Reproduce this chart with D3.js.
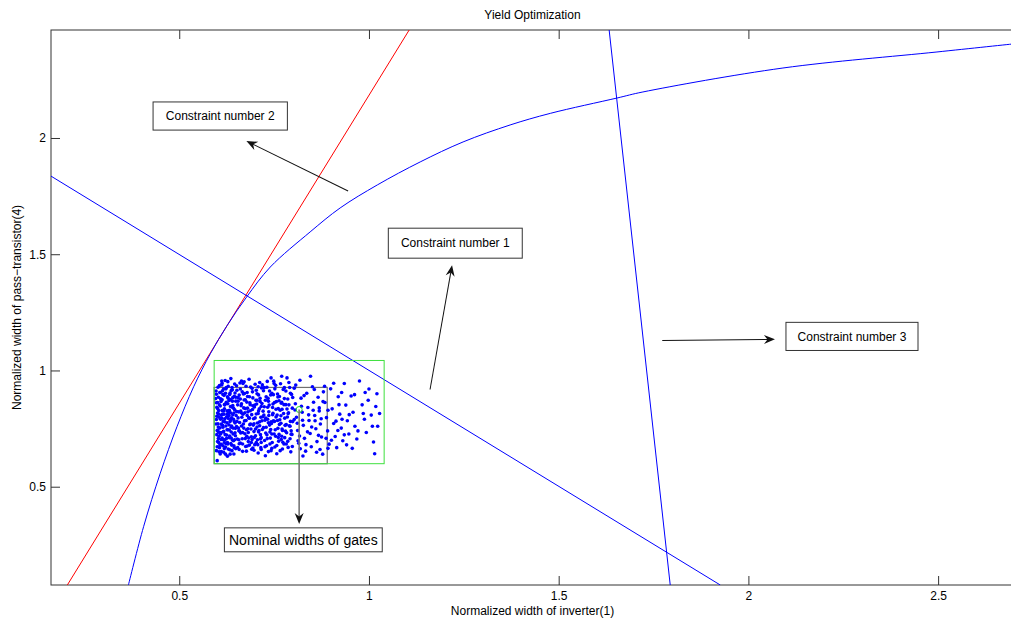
<!DOCTYPE html>
<html>
<head>
<meta charset="utf-8">
<script src="https://cdn.jsdelivr.net/npm/d3@7"></script>
<style>
  body { margin: 0; background: #fff; }
  text { font-family: "Liberation Sans", Arial, sans-serif; }
</style>
</head>
<body>
<div id="chart_yield"></div>
<script>

const chartTitle = 'Yield Optimization';
const xAxisTitle = 'Normalized width of inverter(1)';
const yAxisTitle = 'Normalized width of pass\u2212transistor(4)';

// tick values / labels
const x_ticks = [0.5, 1, 1.5, 2, 2.5];
const x_tick_labels = ['0.5', '1', '1.5', '2', '2.5'];
const y_ticks = [0.5, 1, 1.5, 2];
const y_tick_labels = ['0.5', '1', '1.5', '2'];

// constraint 1 (curved boundary)
const constraint_1 = [
  [0.366, 0.077], [0.406, 0.328], [0.450, 0.558], [0.494, 0.758], [0.538, 0.930],
  [0.582, 1.072], [0.626, 1.193], [0.678, 1.317], [0.740, 1.445], [0.845, 1.596],
  [0.924, 1.699], [1.022, 1.798], [1.135, 1.897], [1.248, 1.983], [1.372, 2.056],
  [1.478, 2.106], [1.654, 2.172], [1.722, 2.198], [2.091, 2.301], [2.497, 2.370],
  [2.700, 2.405]
];
// constraint 2 (red line)
const constraint_2 = [[0.205, 0.077], [1.106, 2.4645]];
// the two straight blue lines
const constraint_3 = [[1.633, 2.4645], [1.794, 0.077]];
const constraint_4 = [[0.162, 1.836], [1.926, 0.077]];

// tolerance box (green) and nominal box (gray)
const tolerance_box = { x0: 0.592, x1: 1.040, y0: 0.599, y1: 1.043 };
const nominal_box = { x0: 0.592, x1: 0.890, y0: 0.599, y1: 0.927 };
const nominal_point = [0.816, 0.832];

// Monte Carlo samples
const samples = [
  [0.597,0.912],[0.598,0.861],[0.599,0.803],[0.600,0.742],[0.601,0.694],[0.598,0.655],[0.603,0.885],[0.604,0.828],[0.602,0.771],[0.605,0.717],
  [0.606,0.668],[0.607,0.905],[0.608,0.847],[0.609,0.790],[0.610,0.733],[0.611,0.682],[0.612,0.938],[0.613,0.874],[0.614,0.812],[0.615,0.756],
  [0.616,0.702],[0.617,0.648],[0.618,0.893],[0.619,0.835],[0.620,0.779],[0.621,0.724],[0.622,0.671],[0.623,0.921],[0.624,0.858],[0.625,0.801],
  [0.626,0.745],[0.627,0.690],[0.628,0.952],[0.629,0.881],[0.630,0.822],[0.631,0.766],[0.632,0.711],[0.633,0.659],[0.634,0.903],[0.635,0.845],
  [0.636,0.788],[0.637,0.735],[0.638,0.679],[0.639,0.927],[0.640,0.868],[0.641,0.809],[0.642,0.752],[0.643,0.698],[0.644,0.641],[0.645,0.889],
  [0.646,0.831],[0.647,0.774],[0.648,0.719],[0.649,0.664],[0.600,0.612],
  [0.596,0.879],[0.597,0.770],[0.599,0.724],[0.601,0.836],[0.602,0.928],[0.604,0.690],[0.605,0.799],[0.607,0.753],[0.608,0.641],[0.610,0.867],
  [0.611,0.808],[0.613,0.709],[0.614,0.913],[0.616,0.781],[0.617,0.738],[0.619,0.664],[0.620,0.852],[0.622,0.902],[0.623,0.761],[0.625,0.708],
  [0.626,0.826],[0.628,0.684],[0.629,0.794],[0.631,0.871],[0.632,0.744],[0.634,0.640],[0.635,0.818],[0.637,0.914],[0.638,0.761],[0.640,0.701],
  [0.641,0.849],[0.643,0.790],[0.644,0.676],[0.646,0.942],[0.647,0.732],[0.649,0.868],[0.650,0.806],[0.612,0.955],[0.636,0.965],[0.627,0.631],
  [0.652,0.915],[0.654,0.852],[0.655,0.796],[0.657,0.741],[0.658,0.685],[0.660,0.946],[0.661,0.877],[0.663,0.818],[0.664,0.761],[0.666,0.706],
  [0.667,0.652],[0.669,0.899],[0.670,0.839],[0.672,0.783],[0.673,0.728],[0.675,0.673],[0.676,0.932],[0.678,0.864],[0.679,0.806],[0.681,0.749],
  [0.682,0.694],[0.684,0.962],[0.685,0.887],[0.687,0.827],[0.688,0.770],[0.690,0.715],[0.691,0.661],[0.693,0.908],[0.694,0.848],[0.696,0.792],
  [0.697,0.737],[0.699,0.681],[0.700,0.941],[0.702,0.872],[0.703,0.813],[0.705,0.757],[0.706,0.702],[0.708,0.645],[0.709,0.895],[0.711,0.835],
  [0.712,0.779],[0.714,0.724],[0.715,0.668],[0.717,0.925],[0.718,0.858],[0.720,0.801],[0.719,0.746],[0.716,0.690],
  [0.651,0.759],[0.653,0.705],[0.655,0.883],[0.656,0.822],[0.658,0.660],[0.659,0.776],[0.661,0.920],[0.662,0.731],[0.664,0.857],[0.665,0.799],
  [0.667,0.684],[0.668,0.944],[0.670,0.752],[0.671,0.873],[0.673,0.818],[0.674,0.707],[0.676,0.785],[0.677,0.653],[0.679,0.905],[0.680,0.838],
  [0.682,0.733],[0.683,0.796],[0.685,0.679],[0.686,0.861],[0.688,0.929],[0.689,0.748],[0.691,0.810],[0.692,0.703],[0.694,0.882],[0.695,0.765],
  [0.697,0.657],[0.698,0.843],[0.700,0.796],[0.701,0.719],[0.703,0.915],[0.704,0.856],[0.706,0.774],[0.707,0.681],[0.709,0.826],[0.710,0.742],
  [0.712,0.948],[0.713,0.880],[0.715,0.799],[0.716,0.711],
  [0.722,0.913],[0.724,0.844],[0.726,0.786],[0.728,0.731],[0.730,0.676],[0.732,0.953],[0.734,0.880],[0.736,0.822],[0.738,0.765],[0.740,0.709],
  [0.742,0.655],[0.744,0.902],[0.746,0.841],[0.748,0.783],[0.750,0.727],[0.752,0.671],[0.754,0.936],[0.756,0.866],[0.758,0.808],[0.760,0.751],
  [0.762,0.696],[0.764,0.888],[0.766,0.829],[0.768,0.773],[0.770,0.717],[0.772,0.662],[0.774,0.918],[0.776,0.853],[0.778,0.795],[0.780,0.739],
  [0.782,0.684],[0.784,0.968],[0.786,0.877],[0.788,0.818],[0.790,0.762],[0.792,0.706],[0.794,0.650],[0.796,0.897],[0.798,0.838],[0.799,0.780],
  [0.797,0.725],
  [0.723,0.808],[0.725,0.699],[0.727,0.872],[0.729,0.756],[0.731,0.928],[0.733,0.790],[0.735,0.651],[0.737,0.851],[0.739,0.735],[0.741,0.895],
  [0.743,0.772],[0.745,0.690],[0.747,0.816],[0.749,0.954],[0.751,0.862],[0.753,0.745],[0.755,0.800],[0.757,0.677],[0.759,0.899],[0.761,0.836],
  [0.763,0.725],[0.765,0.788],[0.767,0.943],[0.769,0.859],[0.771,0.748],[0.773,0.691],[0.775,0.815],[0.777,0.879],[0.779,0.764],[0.781,0.912],
  [0.783,0.732],[0.785,0.800],[0.787,0.669],[0.789,0.852],[0.791,0.927],[0.793,0.781],[0.795,0.741],[0.770,0.975],[0.742,0.968],
  [0.803,0.924],[0.806,0.857],[0.809,0.799],[0.812,0.742],[0.815,0.687],[0.818,0.958],[0.821,0.881],[0.824,0.820],[0.827,0.764],[0.830,0.708],
  [0.833,0.653],[0.836,0.902],[0.839,0.841],[0.842,0.785],[0.845,0.729],[0.848,0.672],[0.851,0.930],[0.854,0.863],[0.857,0.806],[0.860,0.749],
  [0.863,0.694],[0.866,0.885],[0.869,0.826],[0.872,0.770],[0.875,0.714],[0.878,0.640],[0.880,0.908],[0.871,0.660],[0.826,0.632],[0.846,0.975],
  [0.884,0.862],[0.888,0.797],[0.891,0.740],[0.895,0.683],[0.899,0.921],[0.903,0.835],[0.907,0.772],[0.911,0.716],[0.915,0.668],[0.919,0.887],
  [0.923,0.812],[0.927,0.752],[0.931,0.698],[0.935,0.944],[0.939,0.851],[0.943,0.784],[0.947,0.727],[0.892,0.665],[0.928,0.905],
  [0.953,0.890],[0.958,0.820],[0.963,0.760],[0.968,0.705],[0.975,0.955],[0.982,0.852],[0.988,0.790],[0.993,0.733],[1.000,0.920],[1.006,0.808],
  [1.012,0.692],[1.018,0.845],[1.023,0.760],[1.015,0.642],[0.990,0.905],[1.028,0.815],
  [0.603,0.757],[0.618,0.812],[0.611,0.651],[0.627,0.887],[0.599,0.842],[0.642,0.727],[0.634,0.781],[0.606,0.935],[0.655,0.868],[0.621,0.703],
  [0.647,0.903],[0.614,0.764],[0.668,0.812],[0.629,0.662],[0.598,0.789],[0.677,0.745],[0.639,0.843],[0.609,0.878],[0.661,0.688],[0.624,0.926],
  [0.687,0.853],[0.645,0.668],[0.603,0.707],[0.652,0.781],[0.633,0.897],[0.616,0.735],[0.672,0.901],[0.697,0.771],[0.637,0.709],[0.601,0.862],
  [0.683,0.709],[0.619,0.853],[0.659,0.739],[0.644,0.817],[0.607,0.679],[0.693,0.832],[0.628,0.745],[0.664,0.955],[0.612,0.795],[0.679,0.675],
  [0.648,0.751],[0.621,0.957],[0.674,0.836],[0.636,0.686],[0.604,0.812],[0.692,0.923],[0.657,0.702],[0.626,0.775],[0.685,0.795],[0.641,0.883],
  [0.609,0.727],[0.669,0.770],[0.632,0.829],[0.698,0.712],[0.615,0.897],[0.651,0.934],[0.680,0.888],[0.623,0.686],[0.663,0.848],[0.600,0.672],
  [0.712,0.762],[0.735,0.868],[0.761,0.712],[0.708,0.815],[0.748,0.896],[0.726,0.672],[0.784,0.834],[0.741,0.746],[0.719,0.938],[0.768,0.805],
  [0.703,0.690],[0.792,0.760],[0.755,0.833],[0.731,0.723],[0.777,0.926],[0.716,0.845],[0.803,0.789],[0.744,0.665],[0.763,0.870],[0.728,0.795],
  [0.817,0.718],[0.705,0.872],[0.786,0.695],[0.751,0.781],[0.738,0.912],[0.822,0.846],[0.772,0.742],[0.714,0.705],[0.799,0.884],[0.757,0.642],
  [0.733,0.842],[0.811,0.773],[0.776,0.684],[0.746,0.810],[0.829,0.892],[0.722,0.754],[0.789,0.948],[0.764,0.768],[0.841,0.809],[0.708,0.930],
  [0.795,0.726],[0.752,0.921],[0.834,0.681],[0.781,0.853],[0.727,0.633],[0.849,0.757],[0.807,0.937],[0.769,0.703],[0.742,0.779],[0.819,0.663],
  [0.858,0.784],[0.892,0.829],[0.867,0.721],[0.913,0.782],[0.879,0.866],[0.935,0.723],[0.862,0.648],[0.948,0.810],[0.901,0.700],[0.883,0.932],
  [0.971,0.740],[0.921,0.853],[0.856,0.918],[0.998,0.872],[0.941,0.680],[0.874,0.792],[0.962,0.896],[0.907,0.945],[1.009,0.760],[0.887,0.708],
  [0.956,0.665],[0.929,0.790],[0.869,0.839],[0.985,0.815],[0.918,0.742],[1.021,0.900],
  [0.602,0.744],[0.613,0.828],[0.625,0.722],[0.608,0.905],[0.631,0.806],[0.619,0.690],[0.640,0.917],[0.605,0.650],[0.651,0.823],[0.624,0.863],
  [0.611,0.769],[0.637,0.756],[0.598,0.898],[0.646,0.702],[0.629,0.932],[0.615,0.676],[0.658,0.894],[0.601,0.817],[0.643,0.838],[0.620,0.792],
  [0.667,0.733],[0.633,0.718],[0.606,0.852],[0.654,0.668],[0.627,0.813],[0.674,0.874],[0.617,0.920],[0.639,0.655],[0.686,0.767],[0.610,0.703],
  [0.662,0.825],[0.645,0.780],[0.699,0.851],[0.622,0.640],[0.678,0.717],[0.635,0.875],[0.690,0.690],[0.613,0.945],[0.671,0.951],[0.656,0.752],
  [0.604,0.734],[0.681,0.822],[0.628,0.857],[0.701,0.748],[0.649,0.885],[0.694,0.666],[0.617,0.827],[0.666,0.908],[0.705,0.900],[0.638,0.796],
  [0.718,0.784],[0.732,0.707],[0.747,0.856],[0.713,0.867],[0.759,0.785],[0.724,0.926],[0.771,0.833],[0.739,0.684],[0.782,0.767],[0.709,0.736],
  [0.754,0.717],[0.793,0.902],[0.736,0.806],[0.766,0.655],[0.721,0.825],[0.805,0.830],[0.750,0.944],[0.778,0.711],[0.729,0.887],[0.813,0.698],
  [0.760,0.886],[0.744,0.727],[0.787,0.815],[0.716,0.660],[0.798,0.673],[0.735,0.775],[0.825,0.786],[0.770,0.863],[0.853,0.829],[0.838,0.736]
];

// text annotations: box corners in data units, arrow tail -> head
const notes = [
  { text: 'Constraint number 2', x0: 0.431, x1: 0.785, y0: 2.034, y1: 2.155, size: 12 },
  { text: 'Constraint number 1', x0: 1.051, x1: 1.404, y0: 1.483, y1: 1.612, size: 12 },
  { text: 'Constraint number 3', x0: 2.099, x1: 2.447, y0: 1.086, y1: 1.207, size: 12 },
  { text: 'Nominal widths of gates', x0: 0.619, x1: 1.035, y0: 0.220, y1: 0.323, size: 14 }
];
const arrows = [
  { from: [0.945, 1.772], to: [0.677, 1.987], color: '#111' },
  { from: [1.161, 0.918], to: [1.219, 1.453], color: '#111' },
  { from: [1.773, 1.129], to: [2.070, 1.134], color: '#111' },
  { from: [0.816, 0.832], to: [0.816, 0.340], color: '#777' }
];

const figure_width = 1011;
const figure_height = 620;
const plot_margin = { top: 30, left: 51 },
    plot_width = 963,
    plot_height = 555;

const svg_root = d3.select( 'div#chart_yield' )
  .append( 'svg' )
    .attr( 'width', figure_width )
    .attr( 'height', figure_height );

const svg = svg_root.append( 'g' )
    .attr( 'transform', 'translate( ' + plot_margin.left + ', ' + plot_margin.top + ' )' );

const x = d3.scaleLinear()
  .domain( [0.162, 2.7] )
  .range( [0, plot_width] );
const y = d3.scaleLinear()
  .domain( [0.0772, 2.4645] )
  .range( [plot_height, 0] );

svg.append( 'clipPath' ).attr( 'id', 'plot_clip' )
  .append( 'rect' ).attr( 'width', plot_width ).attr( 'height', plot_height );

// Axes (ticks point inward, MATLAB style)
const axis_color = '#333';
function style_axis( g ) {
  g.select( '.domain' ).remove();
  g.selectAll( '.tick line' ).attr( 'stroke', axis_color );
  g.selectAll( '.tick text' ).attr( 'fill', '#000' )
    .style( 'font-size', '12px' ).style( 'font-family', '"Liberation Sans", Arial, sans-serif' );
}
svg.append( 'g' )
  .attr( 'transform', 'translate(0,' + plot_height + ')' )
  .call( d3.axisBottom( x ).tickValues( x_ticks ).tickFormat( ( d, i ) => x_tick_labels[i] )
    .tickSizeInner( -9 ).tickSizeOuter( 0 ).tickPadding( 6 ) )
  .call( style_axis );
svg.append( 'g' )
  .call( d3.axisTop( x ).tickValues( x_ticks ).tickFormat( '' ).tickSizeInner( -9 ).tickSizeOuter( 0 ) )
  .call( style_axis );
svg.append( 'g' )
  .call( d3.axisLeft( y ).tickValues( y_ticks ).tickFormat( ( d, i ) => y_tick_labels[i] )
    .tickSizeInner( -9 ).tickSizeOuter( 0 ).tickPadding( 5 ) )
  .call( style_axis );

// Frame
svg.append( 'rect' )
  .attr( 'width', plot_width ).attr( 'height', plot_height )
  .attr( 'fill', 'none' ).attr( 'stroke', axis_color ).attr( 'stroke-width', 1 );

const plot = svg.append( 'g' ).attr( 'clip-path', 'url(#plot_clip)' );
const line = d3.line().x( d => x( d[0] ) ).y( d => y( d[1] ) );
const smooth_line = d3.line().curve( d3.curveCatmullRom.alpha( 0.5 ) ).x( d => x( d[0] ) ).y( d => y( d[1] ) );

// Constraint lines
plot.append( 'path' ).datum( constraint_2 ).attr( 'd', line )
  .attr( 'fill', 'none' ).attr( 'stroke', '#ff0000' ).attr( 'stroke-width', 1 );
plot.append( 'path' ).datum( constraint_1 ).attr( 'd', smooth_line )
  .attr( 'fill', 'none' ).attr( 'stroke', '#0000ff' ).attr( 'stroke-width', 1 );
[constraint_3, constraint_4].forEach( function( c ) {
  plot.append( 'path' ).datum( c ).attr( 'd', line )
    .attr( 'fill', 'none' ).attr( 'stroke', '#0000ff' ).attr( 'stroke-width', 1 );
});

// Nominal box (gray) and tolerance box (green)
plot.append( 'rect' )
  .attr( 'x', x( nominal_box.x0 ) ).attr( 'y', y( nominal_box.y1 ) )
  .attr( 'width', x( nominal_box.x1 ) - x( nominal_box.x0 ) )
  .attr( 'height', y( nominal_box.y0 ) - y( nominal_box.y1 ) )
  .attr( 'fill', 'none' ).attr( 'stroke', '#707070' ).attr( 'stroke-width', 1.2 );

// Samples
plot.append( 'g' )
  .selectAll( 'circle' )
  .data( samples )
  .enter()
  .append( 'circle' )
    .attr( 'cx', d => x( d[0] ) )
    .attr( 'cy', d => y( d[1] ) )
    .attr( 'r', 1.8 )
    .style( 'fill', '#0000ff' );

plot.append( 'rect' )
  .attr( 'x', x( tolerance_box.x0 ) ).attr( 'y', y( tolerance_box.y1 ) )
  .attr( 'width', x( tolerance_box.x1 ) - x( tolerance_box.x0 ) )
  .attr( 'height', y( tolerance_box.y0 ) - y( tolerance_box.y1 ) )
  .attr( 'fill', 'none' ).attr( 'stroke', '#3ee03e' ).attr( 'stroke-width', 1 );

plot.append( 'circle' )
  .attr( 'cx', x( nominal_point[0] ) ).attr( 'cy', y( nominal_point[1] ) )
  .attr( 'r', 3 ).attr( 'fill', 'none' ).attr( 'stroke', '#22dd22' ).attr( 'stroke-width', 1 );

// Arrows
arrows.forEach( function( a ) {
  const x1 = x( a.from[0] ), y1 = y( a.from[1] ), x2 = x( a.to[0] ), y2 = y( a.to[1] );
  const ang = Math.atan2( y2 - y1, x2 - x1 ) * 180 / Math.PI;
  const len = Math.hypot( x2 - x1, y2 - y1 );
  const g = svg.append( 'g' )
    .attr( 'transform', 'translate(' + x1 + ',' + y1 + ') rotate(' + ang + ')' );
  g.append( 'line' ).attr( 'x1', 0 ).attr( 'y1', 0 ).attr( 'x2', len - 6 ).attr( 'y2', 0 )
    .attr( 'stroke', a.color ).attr( 'stroke-width', a.color === '#111' ? 1 : 1.6 );
  g.append( 'path' )
    .attr( 'd', 'M' + len + ',0 L' + ( len - 11 ) + ',-4.5 L' + ( len - 7.5 ) + ',0 L' + ( len - 11 ) + ',4.5 Z' )
    .attr( 'fill', '#111' );
});

// Text boxes
notes.forEach( function( n ) {
  svg.append( 'rect' )
    .attr( 'x', x( n.x0 ) ).attr( 'y', y( n.y1 ) )
    .attr( 'width', x( n.x1 ) - x( n.x0 ) ).attr( 'height', y( n.y0 ) - y( n.y1 ) )
    .attr( 'fill', '#fff' ).attr( 'stroke', '#333' ).attr( 'stroke-width', 1 );
  svg.append( 'text' )
    .attr( 'x', ( x( n.x0 ) + x( n.x1 ) ) / 2 )
    .attr( 'y', ( y( n.y0 ) + y( n.y1 ) ) / 2 )
    .attr( 'dy', '0.35em' )
    .attr( 'text-anchor', 'middle' )
    .style( 'font-size', n.size + 'px' )
    .text( n.text );
});

// Titles
svg_root.append( 'text' )
  .attr( 'x', plot_margin.left + x( 1.431 ) ).attr( 'y', 19 )
  .attr( 'text-anchor', 'middle' ).style( 'font-size', '12px' )
  .text( chartTitle );
svg_root.append( 'text' )
  .attr( 'x', plot_margin.left + x( 1.431 ) ).attr( 'y', 615 )
  .attr( 'text-anchor', 'middle' ).style( 'font-size', '12px' )
  .text( xAxisTitle );
svg_root.append( 'text' )
  .attr( 'transform', 'translate(21,' + ( plot_margin.top + y( 1.271 ) ) + ') rotate(-90)' )
  .attr( 'text-anchor', 'middle' ).style( 'font-size', '12px' )
  .text( yAxisTitle );

</script>
</body>
</html>
